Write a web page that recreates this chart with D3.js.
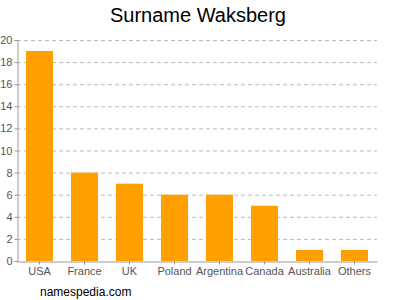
<!DOCTYPE html>
<style>
  body { margin: 0; font-family: "Liberation Sans", Arial, sans-serif; }
</style>
<div id="chart"></div>
<script src="https://d3js.org/d3.v7.min.js"></script>
<script>
  const countries = ["USA", "France", "UK", "Poland", "Argentina", "Canada", "Australia", "Others"];
  const counts = [19, 8, 7, 6, 6, 5, 1, 1];
  const yTicks = [0, 2, 4, 6, 8, 10, 12, 14, 16, 18, 20];

  const W = 400, H = 300;
  const plotLeft = 17, plotRight = 377, plotTop = 40, plotBottom = 261;

  const svg = d3.select("#chart").append("svg")
    .attr("width", W).attr("height", H);

  const x = d3.scaleBand().domain(countries).range([plotLeft, plotRight])
    .paddingInner(0.4).paddingOuter(0.2);
  const y = d3.scaleLinear().domain([0, 20]).range([plotBottom, plotTop]);

  // grid
  svg.append("g").selectAll("line")
    .data(yTicks.filter(d => d > 0))
    .join("line")
    .attr("x1", plotLeft).attr("x2", plotRight)
    .attr("y1", d => y(d) + 0.5).attr("y2", d => y(d) + 0.5)
    .attr("stroke", "#bbb").attr("stroke-dasharray", "4,3");

  // bars
  svg.append("g").selectAll("rect")
    .data(counts)
    .join("rect")
    .attr("x", (d, i) => x(countries[i]))
    .attr("y", d => y(d))
    .attr("width", x.bandwidth())
    .attr("height", d => plotBottom - y(d))
    .attr("fill", "#ffa000");

  // y axis
  const yAxis = svg.append("g")
    .attr("transform", "translate(" + (plotLeft + 0.5) + ",0)")
    .call(d3.axisLeft(y).tickValues(yTicks).tickSize(3).tickPadding(2));
  yAxis.select(".domain").attr("stroke", "#999");
  yAxis.selectAll(".tick line").attr("stroke", "#999");
  yAxis.selectAll("text").attr("fill", "#555").style("font-size", "11px")
    .style("font-family", "Liberation Sans, Arial, sans-serif");

  // x axis
  const xAxis = svg.append("g")
    .attr("transform", "translate(0," + (plotBottom + 0.5) + ")")
    .call(d3.axisBottom(x).tickSize(3).tickSizeOuter(0).tickPadding(3));
  xAxis.select(".domain").attr("stroke", "#999");
  xAxis.selectAll(".tick line").attr("stroke", "#999");
  xAxis.selectAll("text").attr("fill", "#555").style("font-size", "11px")
    .style("font-family", "Liberation Sans, Arial, sans-serif");

  svg.append("text")
    .attr("x", 198).attr("y", 22)
    .attr("text-anchor", "middle")
    .style("font-size", "20px")
    .attr("fill", "#000")
    .text("Surname Waksberg");

  svg.append("text")
    .attr("x", 40).attr("y", 296)
    .style("font-size", "12px")
    .attr("fill", "#000")
    .text("namespedia.com");
</script>
